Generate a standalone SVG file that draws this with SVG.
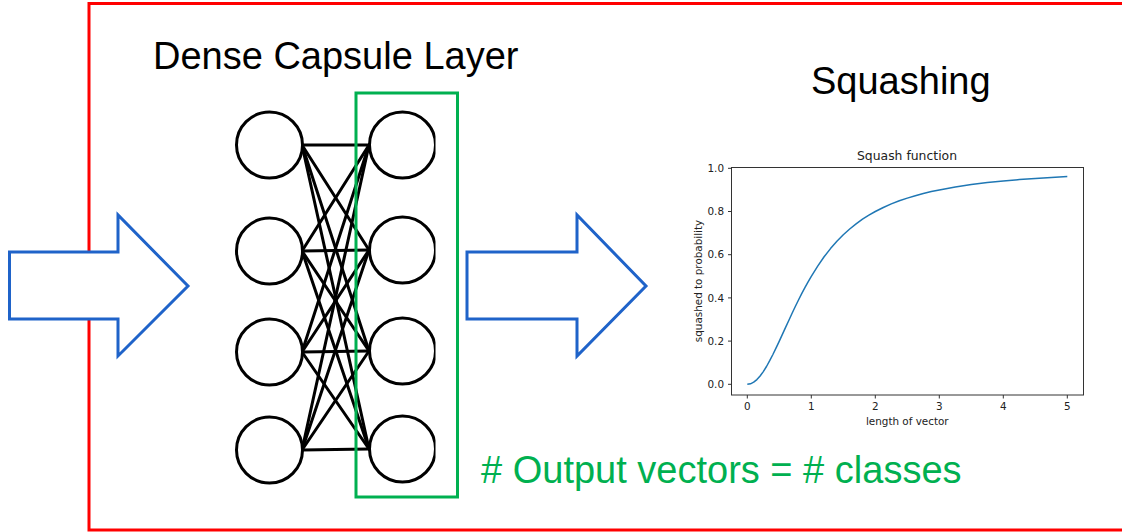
<svg xmlns="http://www.w3.org/2000/svg" width="1122" height="532" viewBox="0 0 1122 532">
  <style>
    .frame { fill: none; stroke: #ff0000; stroke-width: 3; }
    .outbox { fill: none; stroke: #00b050; stroke-width: 3; }
    .block { fill: #ffffff; stroke: #1f63c9; stroke-width: 3; stroke-linejoin: miter; }
    .neuron { fill: #ffffff; stroke: #000000; stroke-width: 3; }
    .link { stroke: #000000; stroke-width: 3; stroke-linecap: round; }
    .heading { font-family: "Liberation Sans", Arial, sans-serif; font-size: 38px; fill: #000000; }
    .note { font-family: "Liberation Sans", Arial, sans-serif; font-size: 38px; fill: #00b050; }
    .mpl { font-family: "DejaVu Sans", sans-serif; font-size: 10.4px; fill: #222222; }
    .mpl-title { font-family: "DejaVu Sans", sans-serif; font-size: 12.4px; fill: #222222; }
    .spine { fill: none; stroke: #333333; stroke-width: 1; }
    .tick { stroke: #333333; stroke-width: 1; }
    .curve { fill: none; stroke: #1f77b4; stroke-width: 1.5; stroke-linejoin: round; }
  </style>
  <defs>
    <clipPath id="rightCol">
      <rect x="300" y="90" width="135.5" height="400"/>
    </clipPath>
  </defs>

  <rect width="1122" height="532" fill="#ffffff"/>

  <!-- outer frame -->
  <rect class="frame" x="89" y="3.5" width="1045" height="526.5"/>

  <!-- titles -->
  <text class="heading" x="153" y="69">Dense Capsule Layer</text>
  <text class="heading" x="811" y="94">Squashing</text>

  <!-- input arrow -->
  <g id="arrow-in">
    <polygon class="block" points="9.5,252 118,252 118,215 188,286 118,356 118,319 9.5,319"/>
  </g>

  <!-- connections between the two capsule columns -->
  <g id="connectors">
    <line class="link" x1="302" y1="145" x2="369" y2="145"/>
    <line class="link" x1="302" y1="145" x2="369" y2="250"/>
    <line class="link" x1="302" y1="145" x2="369" y2="351"/>
    <line class="link" x1="302" y1="145" x2="369" y2="449"/>
    <line class="link" x1="302" y1="251" x2="369" y2="145"/>
    <line class="link" x1="302" y1="251" x2="369" y2="250"/>
    <line class="link" x1="302" y1="251" x2="369" y2="351"/>
    <line class="link" x1="302" y1="251" x2="369" y2="449"/>
    <line class="link" x1="302" y1="352" x2="369" y2="145"/>
    <line class="link" x1="302" y1="352" x2="369" y2="250"/>
    <line class="link" x1="302" y1="352" x2="369" y2="351"/>
    <line class="link" x1="302" y1="352" x2="369" y2="449"/>
    <line class="link" x1="302" y1="450" x2="369" y2="145"/>
    <line class="link" x1="302" y1="450" x2="369" y2="250"/>
    <line class="link" x1="302" y1="450" x2="369" y2="351"/>
    <line class="link" x1="302" y1="450" x2="369" y2="449"/>
  </g>

  <!-- input capsules -->
  <g id="in-1"><circle class="neuron" cx="269.5" cy="145" r="33"/></g>
  <g id="in-2"><circle class="neuron" cx="269.5" cy="251" r="33"/></g>
  <g id="in-3"><circle class="neuron" cx="269.5" cy="352" r="33"/></g>
  <g id="in-4"><circle class="neuron" cx="269.5" cy="450" r="33"/></g>

  <!-- output capsules -->
  <g clip-path="url(#rightCol)">
    <g id="out-1"><circle class="neuron" cx="402.5" cy="145" r="33"/></g>
    <g id="out-2"><circle class="neuron" cx="402.5" cy="250" r="33"/></g>
    <g id="out-3"><circle class="neuron" cx="402.5" cy="351" r="33"/></g>
    <g id="out-4"><circle class="neuron" cx="402.5" cy="449" r="33"/></g>
  </g>

  <!-- output column highlight -->
  <g id="output-box">
    <rect class="outbox" x="356" y="93" width="101.5" height="404"/>
  </g>

  <!-- output arrow -->
  <g id="arrow-out">
    <polygon class="block" points="467,252 577,252 577,215 646,286 577,356 577,319 467,319"/>
  </g>

  <!-- squash function plot: y = x^2 / (1 + x^2) -->
  <g id="plot">
    <text class="mpl-title" x="907" y="160" text-anchor="middle">Squash function</text>
    <polyline class="curve" points="747.3,384.3 750.5,383.8 753.7,382.2 756.9,379.6 760.1,376.0 763.3,371.6 766.5,366.5 769.7,360.7 772.9,354.5 776.1,347.9 779.3,341.1 782.5,334.1 785.7,327.1 788.9,320.2 792.1,313.3 795.3,306.5 798.5,300.0 801.7,293.7 804.9,287.6 808.1,281.8 811.3,276.3 817.7,266.1 824.1,256.8 830.5,248.6 836.9,241.3 843.3,234.8 849.7,229.0 856.1,223.9 862.5,219.2 868.9,215.2 875.3,211.5 883.3,207.5 891.3,203.9 899.3,200.8 907.3,198.1 915.3,195.7 923.3,193.5 931.3,191.6 939.3,189.9 955.3,187.0 971.3,184.6 987.3,182.6 1003.3,181.0 1019.3,179.6 1035.3,178.5 1051.3,177.5 1067.3,176.6"/>
    <rect class="spine" x="731.5" y="167.5" width="352" height="227.5"/>
    <!-- x ticks -->
    <g class="tick">
      <line x1="747.3" y1="395" x2="747.3" y2="398.5"/>
      <line x1="811.3" y1="395" x2="811.3" y2="398.5"/>
      <line x1="875.3" y1="395" x2="875.3" y2="398.5"/>
      <line x1="939.3" y1="395" x2="939.3" y2="398.5"/>
      <line x1="1003.3" y1="395" x2="1003.3" y2="398.5"/>
      <line x1="1067.3" y1="395" x2="1067.3" y2="398.5"/>
    </g>
    <g class="mpl" text-anchor="middle">
      <text x="747.3" y="410">0</text>
      <text x="811.3" y="410">1</text>
      <text x="875.3" y="410">2</text>
      <text x="939.3" y="410">3</text>
      <text x="1003.3" y="410">4</text>
      <text x="1067.3" y="410">5</text>
    </g>
    <!-- y ticks -->
    <g class="tick">
      <line x1="728" y1="384.3" x2="731.5" y2="384.3"/>
      <line x1="728" y1="341.1" x2="731.5" y2="341.1"/>
      <line x1="728" y1="297.9" x2="731.5" y2="297.9"/>
      <line x1="728" y1="254.7" x2="731.5" y2="254.7"/>
      <line x1="728" y1="211.5" x2="731.5" y2="211.5"/>
      <line x1="728" y1="168.3" x2="731.5" y2="168.3"/>
    </g>
    <g class="mpl" text-anchor="end">
      <text x="724" y="388">0.0</text>
      <text x="724" y="344.8">0.2</text>
      <text x="724" y="301.6">0.4</text>
      <text x="724" y="258.4">0.6</text>
      <text x="724" y="215.2">0.8</text>
      <text x="724" y="172">1.0</text>
    </g>
    <text class="mpl" x="907.3" y="425" text-anchor="middle">length of vector</text>
    <text class="mpl" x="0" y="0" text-anchor="middle" transform="translate(701.5,281) rotate(-90)">squashed to probability</text>
  </g>

  <!-- annotation -->
  <text class="note" x="481" y="483"># Output vectors = # classes</text>
</svg>
